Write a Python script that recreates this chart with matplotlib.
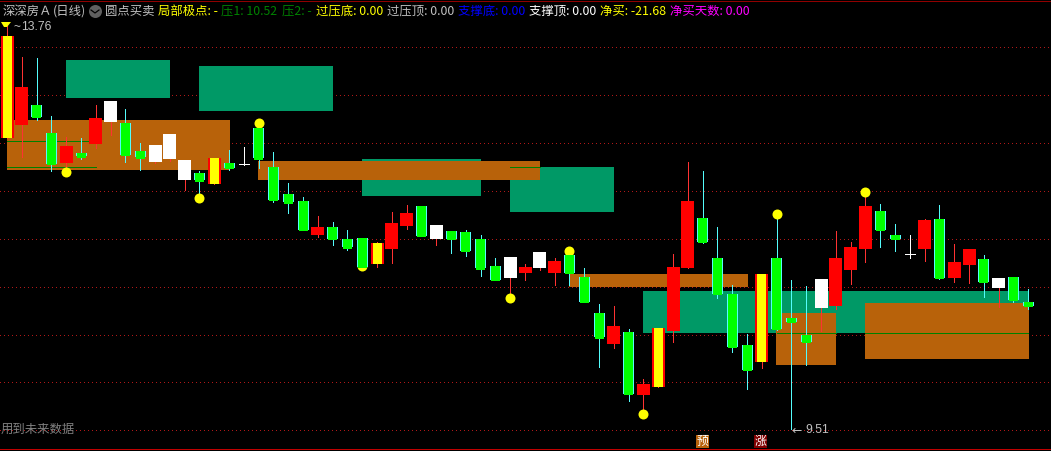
import matplotlib
matplotlib.use("Agg")
import matplotlib.pyplot as plt
from matplotlib.patches import Rectangle, Polygon

plt.rcParams['font.family'] = ['Noto Sans CJK SC', 'DejaVu Sans']

# candle data: body top, body bottom, wick high, wick low, kind
# kinds: g=green, r=red, w=white, y=yellow limit, c=cross
tops = [13.62,13.09,12.90,12.60,12.47,12.40,12.76,12.94,12.71,12.42,12.48,12.59,12.32,12.19,12.34,12.29,12.28,12.66,12.25,11.97,
        11.90,11.62,11.62,11.50,11.51,11.46,11.66,11.77,11.84,11.64,11.58,11.57,11.50,11.22,11.31,11.21,11.36,11.27,11.33,11.10,
        10.72,10.59,10.53,9.98,10.57,11.21,11.90,11.72,11.30,10.92,10.39,11.13,11.30,10.67,10.50,11.08,11.30,11.41,11.84,11.79,
        11.54,11.34,11.70,11.71,11.26,11.39,11.29,11.09,11.10,10.84]
bottoms = [12.55,12.69,12.77,12.28,12.29,12.36,12.49,12.72,12.38,12.35,12.30,12.33,12.11,12.11,12.07,12.24,12.28,12.34,11.91,11.88,
           11.59,11.54,11.50,11.41,11.21,11.24,11.39,11.63,11.53,11.50,11.50,11.37,11.19,11.07,11.09,11.14,11.19,11.14,11.14,10.84,
           10.47,10.40,9.88,9.87,9.95,10.54,11.19,11.47,10.92,10.37,10.13,10.21,10.56,10.63,10.42,10.78,10.80,11.17,11.39,11.59,
           11.50,11.34,11.39,11.09,11.09,11.23,11.05,10.99,10.86,10.80]
highs = [13.76,13.40,13.39,12.78,12.56,12.55,12.90,12.94,12.86,12.50,12.48,12.59,12.32,12.21,12.34,12.43,12.46,12.71,12.41,12.08,
         11.94,11.74,11.68,11.59,11.51,11.47,11.78,11.85,11.84,11.64,11.58,11.59,11.54,11.30,11.31,11.24,11.36,11.30,11.37,11.19,
         10.82,10.80,10.56,10.04,10.57,11.34,12.30,12.21,11.62,11.02,10.51,11.13,11.76,11.07,11.01,11.08,11.58,11.47,11.98,11.86,
         11.65,11.54,11.71,11.85,11.45,11.39,11.33,11.09,11.10,10.98]
lows = [12.55,12.35,12.74,12.21,12.20,12.33,12.45,12.58,12.30,12.22,12.29,12.31,12.01,11.91,12.07,12.22,12.27,12.24,11.88,11.77,
        11.59,11.52,11.44,11.38,11.21,11.21,11.25,11.60,11.53,11.44,11.35,11.32,11.11,11.07,10.88,11.07,11.17,11.02,11.02,10.84,
        10.16,10.36,9.81,9.68,9.95,10.42,11.19,11.46,10.88,10.32,9.93,10.15,10.55,9.51,10.18,10.54,10.77,11.03,11.26,11.41,
        11.37,11.30,11.27,11.08,11.05,11.04,10.89,10.79,10.84,10.77]
kinds = list("yrggrgrwggwwwgygcggggrggg" "yrrgwgggg" "wrwrgg" "grgry" "rrggggy" "gggw" "rrrgg" "crgrrgwgg")

# zones: first candle, last candle, price top, price bottom
teal_start = [4, 13, 24, 34, 43]
teal_end = [11, 22, 32, 41, 69]
teal_top = [13.37, 13.30, 12.33, 12.25, 10.95]
teal_bottom = [12.97, 12.83, 11.95, 11.78, 10.52]
orange_start = [0, 17, 38, 52, 58]
orange_end = [15, 36, 50, 56, 69]
orange_top = [12.74, 12.31, 11.13, 10.72, 10.83]
orange_bottom = [12.22, 12.11, 11.00, 10.18, 10.24]
# thin support lines
line_start = [0, 0, 34, 52, 58]
line_end = [6, 6, 36, 56, 69]
line_price = [12.52, 12.25, 12.25, 10.52, 10.52]
# round markers
dot_index = [4, 13, 17, 24, 34, 38, 43, 52, 58]
dot_price = [12.20, 11.93, 12.71, 11.22, 10.88, 11.37, 9.67, 11.76, 11.99]
# price grid
grid_prices = [13.5, 13.0, 12.5, 12.0, 11.5, 11.0, 10.5, 10.0, 9.5]

header = [(3, "深深房Ａ", "#c0c0c0"), (53, "(日线)", "#c0c0c0"), (105, "圆点买卖", "#c0c0c0"),
          (158, "局部极点: -", "#ffff00"), (221, "压1: 10.52", "#008000"),
          (282, "压2: -", "#008000"), (316, "过压底: 0.00", "#ffff00"),
          (387, "过压顶: 0.00", "#c0c0c0"), (458, "支撑底: 0.00", "#0000ff"),
          (529, "支撑顶: 0.00", "#ffffff"), (600, "净买: -21.68", "#ffff00"),
          (670, "净买天数: 0.00", "#ff00ff")]

W, H = 1051, 451
fig = plt.figure(figsize=(W / 100, H / 100), dpi=100, facecolor="black")
ax = fig.add_axes([0, 0, 1, 1], facecolor="black")
ax.set_xlim(-0.473, 70.540)
ax.set_ylim(9.284, 13.994)
ax.axis("off")
ST = 14.8  # px per candle
px = 72 / 100  # points per pixel
PAD = 0.5 / ST
AA = dict(antialiased=False)

for p in grid_prices:
    ax.axhline(p, color="#b01818", lw=1 * px, ls=(0, (1, 4)), zorder=1, dash_capstyle="butt", **AA)
ax.axhline(13.98, color="#900000", lw=1 * px, zorder=1, **AA)
ax.axhline(9.30, color="#c00000", lw=1 * px, zorder=1, **AA)

for s, e, t, b in zip(teal_start, teal_end, teal_top, teal_bottom):
    ax.add_patch(Rectangle((s - PAD, b), e - s + 2 * PAD, t - b, fc="#009966", ec="none", zorder=2, **AA))
for s, e, t, b in zip(orange_start, orange_end, orange_top, orange_bottom):
    ax.add_patch(Rectangle((s - PAD, b), e - s + 2 * PAD, t - b, fc="#b8620a", ec="none", zorder=3, **AA))
ax.hlines(line_price, line_start, line_end, color="#008000", lw=1 * px, zorder=4, **AA)

hw = 6.5 / ST       # half width of filled bodies
gw = 5.5 / ST       # half width of green bodies
for i, (t, b, h, l, k) in enumerate(zip(tops, bottoms, highs, lows, kinds)):
    wick = {"g": "#54fcfc", "c": "#ffffff"}.get(k, "#ff3232")
    ax.vlines(i, l, h, color=wick, lw=1 * px, zorder=5, **AA)
    if k == "g":
        ax.add_patch(Rectangle((i - gw, b), 2 * gw, t - b, fc="#54fcfc", ec="none", zorder=6, **AA))
        ax.add_patch(Rectangle((i - gw + 1 / ST, b - 0.012), 2 * gw - 2 / ST, t - b + 0.012,
                               fc="#00ff00", ec="none", zorder=6.5, **AA))
    elif k == "r":
        ax.add_patch(Rectangle((i - hw, b), 2 * hw, t - b, fc="#ff0000", ec="none", zorder=6, **AA))
    elif k == "w":
        ax.add_patch(Rectangle((i - hw, b), 2 * hw, t - b, fc="#ffffff", ec="none", zorder=6, **AA))
    elif k == "y":
        ax.add_patch(Rectangle((i - hw, b), 2 * hw, t - b, fc="#ff0000", ec="none", zorder=6, **AA))
        ax.add_patch(Rectangle((i - 4.5 / ST, b), 9 / ST, t - b, fc="#ffff00", ec="none", zorder=7, **AA))
    elif k == "c":
        ax.hlines(t, i - 5 / ST, i + 5 / ST, color="#ffffff", lw=1 * px, zorder=6, **AA)

ax.scatter(dot_index, dot_price, s=(10 * px) ** 2, c="#ffff00", linewidths=0, zorder=5.5)


def T(x, y, s, color, size=8.9, **kw):
    ax.text(x / W, 1 - y / H, s, color=color, fontsize=size, transform=ax.transAxes,
            va="center", ha=kw.pop("ha", "left"), zorder=10, **kw)


def frac(points):
    return [(x / W, 1 - y / H) for x, y in points]


for x, s, c in header:
    T(x, 11, s, c)
# drop-down icon
ax.scatter([95 / W], [1 - 11 / H], s=(13 * px) ** 2, c="#606060", linewidths=0, transform=ax.transAxes, zorder=8)
ax.plot([91 / W, 95 / W, 99 / W], [1 - 10 / H, 1 - 13 / H, 1 - 10 / H], color="#000000", lw=1.2 * px,
        transform=ax.transAxes, zorder=9)
# flag at the top candle and the high-price pointer
ax.add_patch(Polygon(frac([(1, 22), (11, 22), (7, 27), (4, 27)]), fc="#ffff00", ec="none",
                     transform=ax.transAxes, zorder=9))
T(14, 27, "~", "#c0c0c0", size=8.6, family=["Liberation Sans"])
T(21, 27, "13.76", "#c0c0c0", size=8.8, family=["Liberation Sans"])
T(791, 430, "←", "#c0c0c0", size=8.8, family=["DejaVu Sans"])
T(805, 430, "9.51", "#c0c0c0", size=8.8, family=["Liberation Sans"])
T(1, 429, "用到未来数据", "#808080")
# flag boxes at the bottom
for x0, s, c in [(696, "预", "#b8620a"), (754, "涨", "#800000")]:
    ax.add_patch(Rectangle((x0 / W, 1 - 448 / H), 13 / W, 13 / H, fc=c, ec="none", transform=ax.transAxes, zorder=9))
    T(x0 + 6.5, 441.5, s, "#ffffff", size=8.6, ha="center")
fig.savefig("out.png", dpi=100, facecolor="black")
